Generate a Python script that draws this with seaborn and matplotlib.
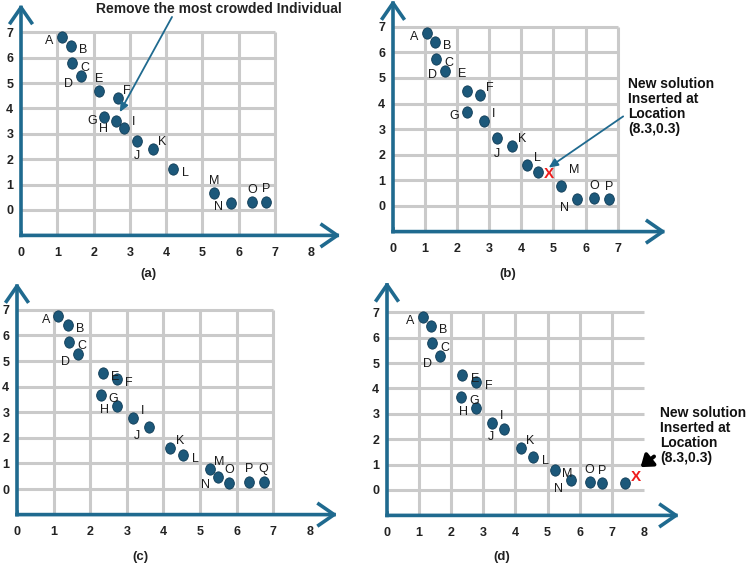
import numpy as np
import pandas as pd
import seaborn as sns
import matplotlib.pyplot as plt
from matplotlib.path import Path
from matplotlib.transforms import Affine2D

sns.set_style("white")
plt.rcParams['font.family'] = ['Liberation Sans', 'DejaVu Sans']

# Point positions
a_lbl = list("ABCDEFGHIJKLMNOP")
a_x = [1.13, 1.38, 1.41, 1.66, 2.14, 2.66, 2.30, 2.61, 2.84, 3.20, 3.63, 4.19, 5.32, 5.78, 6.37, 6.76]
a_y = [6.83, 6.47, 5.77, 5.29, 4.68, 4.42, 3.68, 3.50, 3.21, 2.73, 2.40, 1.61, 0.65, 0.28, 0.30, 0.32]

b_lbl = ["A", "B", "C", "D", "E", "F", "G", "I", "J", "K", "L", "", "M", "N", "O", "P"]
b_x = [1.05, 1.30, 1.35, 1.63, 2.32, 2.72, 2.29, 2.84, 3.23, 3.71, 4.19, 4.53, 5.22, 5.73, 6.27, 6.73]
b_y = [6.77, 6.40, 5.74, 5.27, 4.51, 4.32, 3.68, 3.33, 2.64, 2.33, 1.61, 1.31, 0.79, 0.26, 0.31, 0.26]

c_lbl = list("ABCDEFGHIJKLMNOPQ")
c_x = [1.13, 1.39, 1.42, 1.68, 2.34, 2.72, 2.30, 2.72, 3.17, 3.61, 4.18, 4.53, 5.26, 5.50, 5.80, 6.35, 6.74]
c_y = [6.75, 6.42, 5.74, 5.28, 4.53, 4.30, 3.69, 3.23, 2.76, 2.41, 1.62, 1.33, 0.80, 0.47, 0.24, 0.28, 0.28]

d_lbl = list("ABCDEFGHIJKLMNOP") + [""]
d_x = [1.12, 1.36, 1.41, 1.65, 2.35, 2.78, 2.32, 2.76, 3.26, 3.63, 4.17, 4.54, 5.22, 5.74, 6.31, 6.71, 7.42]
d_y = [6.83, 6.47, 5.77, 5.27, 4.52, 4.27, 3.68, 3.23, 2.64, 2.41, 1.66, 1.31, 0.79, 0.38, 0.30, 0.26, 0.29]

new_b = (4.86, 1.25)
new_d = (7.75, 0.50)

# where each letter sits relative to its dot
a_pos = ["l", "r", "r", "lb", "a", "ra", "l", "lb", "ra", "b", "ra", "r", "a", "l", "a", "a"]
b_pos = ["l", "r", "r", "l", "al", "ra", "l", "ra", "b", "ra", "ra", "r", "ar", "lb", "a", "a"]
c_pos = ["l", "r", "r", "lb", "r", "r", "r", "l", "ra", "lb", "ra", "r", "ra", "lb", "a", "a", "a"]
d_pos = ["l", "r", "r", "lb", "r", "r", "r", "l", "ra", "lb", "ra", "r", "r", "lb", "a", "a", "a"]
offs = {"l": (-9, -3), "r": (9, -3), "a": (0, 9), "b": (0, -11), "ra": (7, 5),
        "lb": (-9, -6), "al": (-4, 12), "ar": (10, 11)}

W, H = 749, 565
AXIS = "#1f6a8f"
DOT = "#1c587a"
GRID = "#cacaca"

fig = plt.figure(figsize=(W / 100, H / 100), dpi=100)

# origin px, unit sizes (px), grid width, x tick count, arrow ends
panels = [
    (a_x, a_y, a_lbl, a_pos, (21, 210), 36.3, 25.4, 7, 9, (8.8, 8.1)),
    (b_x, b_y, b_lbl, b_pos, (393, 206), 32.1, 25.6, 7, 8, (8.5, 8.05)),
    (c_x, c_y, c_lbl, c_pos, (17, 489), 36.6, 25.6, 7, 9, (8.75, 8.05)),
    (d_x, d_y, d_lbl, d_pos, (387, 490), 32.1, 25.4, 8, 9, (9.1, 8.2)),
]

ell = Path.unit_circle().transformed(Affine2D().scale(0.86, 1.0))
xlim, ylim = (0, 9.3), (-1, 8.3)
axes = []
for xs, ys, lbl, pos, (ox, oy), ux, uy, gw, nx, (xe, ye) in panels:
    left = ox + xlim[0] * ux
    right = ox + xlim[1] * ux
    top = oy - ylim[1] * uy
    bot = oy - ylim[0] * uy
    ax = fig.add_axes([left / W, 1 - bot / H, (right - left) / W, (bot - top) / H])
    ax.set_xlim(*xlim)
    ax.set_ylim(*ylim)
    for s in ax.spines.values():
        s.set_visible(False)

    # grid
    ax.hlines(range(0, 8), 0, gw, color=GRID, lw=2.2, zorder=1)
    ax.vlines(range(1, 8), -1, 7, color=GRID, lw=2.2, zorder=1)

    df = pd.DataFrame({"x": xs, "y": ys, "lbl": lbl})
    sns.scatterplot(data=df, x="x", y="y", marker=ell, s=66, color=DOT,
                    edgecolor="#0f3b55", linewidth=0.6, ax=ax, zorder=3)
    for (_, r), p in zip(df.iterrows(), pos):
        if r["lbl"]:
            ax.annotate(r["lbl"], (r["x"], r["y"]), xytext=offs[p], textcoords="offset points",
                        ha="center", va="center", fontsize=9, color="#1a1a1a", zorder=4)

    # axis arrows
    for tip in [(xe, -1), (0, ye)]:
        ax.annotate("", xy=tip, xytext=(0, -1), annotation_clip=False,
                    arrowprops=dict(arrowstyle="->,head_length=0.55,head_width=0.38",
                                    lw=2.6, color=AXIS, mutation_scale=20,
                                    shrinkA=0, shrinkB=0, capstyle="projecting"))
    ax.plot([0, 0], [-1.05, -0.9], color=AXIS, lw=2.6, solid_capstyle="projecting")

    ax.set_xticks(range(nx))
    ax.set_yticks(range(8))
    ax.set_xticklabels([str(i) for i in range(nx)], fontweight="bold", fontsize=9)
    ax.set_yticklabels([str(i) for i in range(8)], fontweight="bold", fontsize=9)
    ax.tick_params(length=0, colors="#222222")
    ax.tick_params(axis="x", pad=8)
    ax.tick_params(axis="y", pad=5.5)
    ax.set_xlabel("")
    ax.set_ylabel("")
    axes.append(ax)

ax_a, ax_b, ax_c, ax_d = axes

ax_a.text(5.45, 7.9, "Remove the most crowded Individual", ha="center", va="center",
          fontsize=10, fontweight="bold", color="#222222")
ax_a.annotate("", xy=(2.72, 3.85), xytext=(4.16, 7.6), annotation_clip=False,
              arrowprops=dict(arrowstyle="-|>,head_length=0.45,head_width=0.2",
                              lw=1.3, color=AXIS, mutation_scale=12, shrinkA=0, shrinkB=0))

ax_b.text(*new_b, "X", color="#ee1c1c", fontweight="bold", fontsize=11,
          ha="center", va="center", zorder=5)
ax_b.text(7.32, 5.05, "New solution\nInserted at\nLocation\n(8.3,0.3)", ha="left", va="top",
          fontsize=10, fontweight="bold", linespacing=1.1, color="#111111")
ax_b.annotate("", xy=(4.85, 1.5), xytext=(7.17, 3.5), annotation_clip=False,
              arrowprops=dict(arrowstyle="-|>,head_length=0.45,head_width=0.2",
                              lw=1.3, color=AXIS, mutation_scale=12, shrinkA=0, shrinkB=0))

ax_d.text(*new_d, "X", color="#ee1c1c", fontweight="bold", fontsize=11,
          ha="center", va="center", zorder=5)
ax_d.text(8.52, 3.3, "New solution\nInserted at\nLocation\n(8.3,0.3)", ha="left", va="top",
          fontsize=10, fontweight="bold", linespacing=1.1, color="#111111")
ax_d.annotate("", xy=(7.9, 0.9), xytext=(8.32, 1.32), annotation_clip=False,
              arrowprops=dict(arrowstyle="-|>,head_length=0.55,head_width=0.4",
                              lw=2.8, color="black", mutation_scale=12, shrinkA=0, shrinkB=0))

for txt, (px, py) in [("(a)", (148, 274)), ("(b)", (508, 274)),
                      ("(c)", (140, 557)), ("(d)", (502, 557))]:
    fig.text(px / W, 1 - py / H, txt, ha="center", va="center",
             fontsize=9.5, fontweight="bold", color="#222222")

fig.savefig("out.png", dpi=100)
